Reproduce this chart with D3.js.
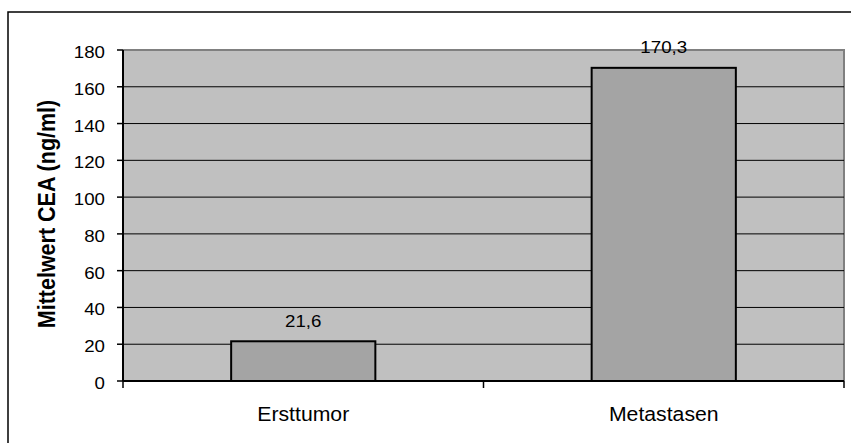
<!DOCTYPE html>
<html>
<head>
<meta charset="utf-8">
<script src="https://cdn.jsdelivr.net/npm/d3@7"></script>
<style>
  html, body { margin: 0; padding: 0; background: #fff; }
  svg { display: block; }
  text { font-family: "Liberation Sans", Arial, sans-serif; fill: #000; }
</style>
</head>
<body>
<svg id="chart" width="851" height="443"></svg>
<script>
// Mean CEA by tumour site
const categories = ["Ersttumor", "Metastasen"];
const values = [21.6, 170.3];
const valueLabels = ["21,6", "170,3"];
const yTicks = [0, 20, 40, 60, 80, 100, 120, 140, 160, 180];
const yTitle = "Mittelwert CEA (ng/ml)";

const W = 851, H = 443;
const plot = { left: 123, right: 844, top: 50, bottom: 381 };
const stretch = 1.1; // text is drawn slightly wide

const svg = d3.select("#chart");

// outer frame (left and top edges)
svg.append("path")
  .attr("d", `M8,${H} L8,12 L${W},12`)
  .attr("fill", "none").attr("stroke", "#000").attr("stroke-width", 1.5);

const x = d3.scaleBand().domain(categories).range([plot.left, plot.right]).padding(0);
const y = d3.scaleLinear().domain([0, 180]).range([plot.bottom, plot.top]);

// plot background
svg.append("rect")
  .attr("x", plot.left).attr("y", plot.top)
  .attr("width", plot.right - plot.left).attr("height", plot.bottom - plot.top)
  .attr("fill", "#c0c0c0");

// top/right plot border
svg.append("path")
  .attr("d", `M${plot.left},${plot.top} L${plot.right},${plot.top} L${plot.right},${plot.bottom}`)
  .attr("fill", "none").attr("stroke", "#808080").attr("stroke-width", 2);

// gridlines
svg.append("g").selectAll("line").data(yTicks.filter(d => d > 0 && d < 180)).join("line")
  .attr("x1", plot.left).attr("x2", plot.right)
  .attr("y1", d => y(d)).attr("y2", d => y(d))
  .attr("stroke", "#000").attr("stroke-width", 1);

// bars
const barW = x.bandwidth() * 0.4;
svg.append("g").selectAll("rect").data(values).join("rect")
  .attr("x", (d, i) => x(categories[i]) + (x.bandwidth() - barW) / 2)
  .attr("y", d => y(d))
  .attr("width", barW)
  .attr("height", d => y(0) - y(d))
  .attr("fill", "#a4a4a4")
  .attr("stroke", "#000").attr("stroke-width", 2);

// y axis line and ticks
const yAxis = svg.append("g");
yAxis.append("line")
  .attr("x1", plot.left).attr("x2", plot.left)
  .attr("y1", plot.top).attr("y2", plot.bottom)
  .attr("stroke", "#000").attr("stroke-width", 2);
yAxis.selectAll("line.tick").data(yTicks).join("line").attr("class", "tick")
  .attr("x1", plot.left - 6).attr("x2", plot.left)
  .attr("y1", d => y(d)).attr("y2", d => y(d))
  .attr("stroke", "#000").attr("stroke-width", 1.5);
yAxis.selectAll("text").data(yTicks).join("text")
  .attr("transform", d => `translate(105,${y(d) + 8}) scale(${stretch},1)`)
  .attr("text-anchor", "end")
  .style("font-size", "17px")
  .text(d => d);

// x axis line and ticks
const xAxis = svg.append("g");
xAxis.append("line")
  .attr("x1", plot.left).attr("x2", plot.right)
  .attr("y1", plot.bottom).attr("y2", plot.bottom)
  .attr("stroke", "#000").attr("stroke-width", 2);
const xTickPos = [plot.left].concat(categories.map(c => x(c) + x.bandwidth()));
xAxis.selectAll("line.tick").data(xTickPos).join("line").attr("class", "tick")
  .attr("x1", d => d).attr("x2", d => d)
  .attr("y1", plot.bottom).attr("y2", plot.bottom + 7)
  .attr("stroke", "#000").attr("stroke-width", 1.5);
xAxis.selectAll("text").data(categories).join("text")
  .attr("transform", d => `translate(${x(d) + x.bandwidth() / 2},421) scale(${stretch},1)`)
  .attr("text-anchor", "middle")
  .style("font-size", "19.3px")
  .text(d => d);

// value labels
svg.append("g").selectAll("text").data(values).join("text")
  .attr("transform", (d, i) => `translate(${x(categories[i]) + x.bandwidth() / 2},${y(d) - 14.5}) scale(${stretch},1)`)
  .attr("text-anchor", "middle")
  .style("font-size", "17px")
  .text((d, i) => valueLabels[i]);

// y axis title
svg.append("text")
  .attr("transform", `translate(55,${(98 + 330) / 2}) scale(${stretch},1) rotate(-90)`)
  .attr("text-anchor", "middle")
  .style("font-size", "21.5px").style("font-weight", "bold")
  .text(yTitle);
</script>
</body>
</html>
